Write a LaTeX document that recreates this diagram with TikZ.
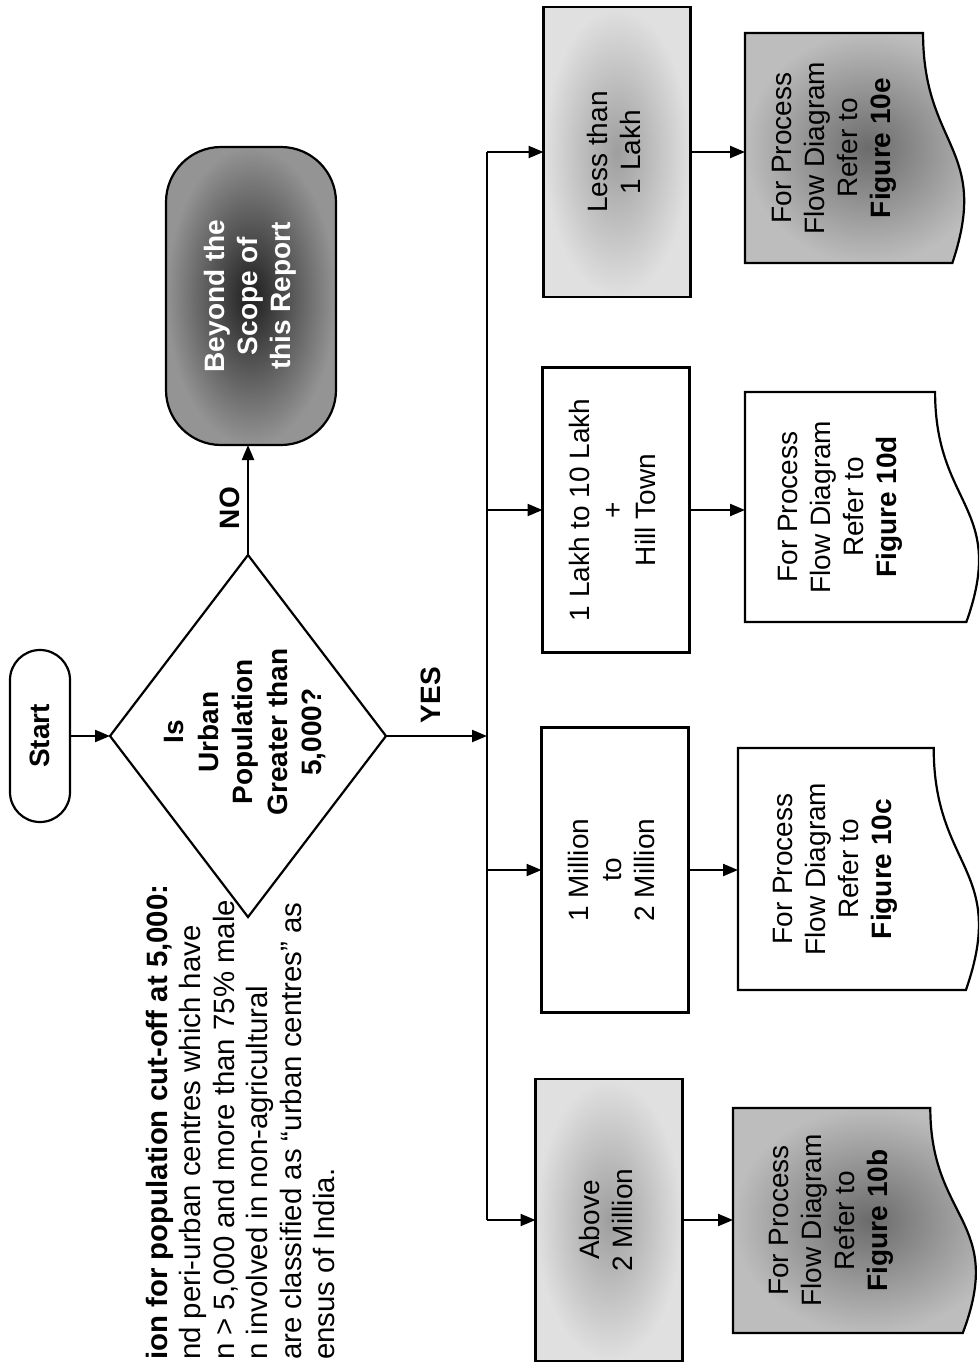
\documentclass[tikz,border=0pt]{standalone}
\usepackage{fontspec}
\setmainfont{Liberation Sans}
\usetikzlibrary{shapes.geometric,arrows.meta}
\newcommand{\myrot}[1]{\rotatebox{90}{\begin{tabular}{@{}c@{}}#1\end{tabular}}}
% #1 name, #2 left, #3 top, #4 width, #5 height, #6 path style, #7 text
\newcommand{\docnode}[7]{%
  \path[#6] (#2,#3) -- ({#2+0.802*#4},#3)
     .. controls ({#2+0.802*#4},{#3+0.5*#5}) and ({#2+1.1075*#4},{#3+0.5*#5}) ..
     ({#2+0.934*#4},{#3+#5}) -- (#2,{#3+#5}) -- cycle;
  \node[docbox, minimum width={0.802*#4}, minimum height=#5] (#1)
     at ({#2+0.401*#4},{#3+0.5*#5}) {\myrot{#7}};
}
\tikzset{
  base/.style={inner sep=0pt, outer sep=0pt, font=\fontsize{28}{33}\selectfont},
  procbox/.style={base, draw, rectangle, minimum width=147pt, minimum height=286pt},
  docbox/.style={base, rectangle, draw=none},
  lightshade/.style={inner color=black!38, outer color=black!12},
  darkdoc/.style={inner color=black!58, outer color=black!26},
  terminal/.style={base, draw, rectangle, rounded corners=30pt, font=\fontsize{28}{33}\selectfont\bfseries},
  decision/.style={draw, diamond, inner sep=0pt, outer sep=0pt, minimum width=276pt, minimum height=362pt},
  lbl/.style={inner sep=0pt, font=\fontsize{28}{33}\selectfont\bfseries},
  note/.style={anchor=base west, rotate=90, inner sep=0pt, font=\fontsize{29.4}{33}\selectfont},
  arr/.style={-{Triangle[length=15pt,width=12pt]}}
}
\begin{document}
\begin{tikzpicture}[x=1pt,y=-1pt,line width=2.2pt]
\useasboundingbox (0,0) rectangle (979,1364);
\fill[white] (0,0) rectangle (979,1364);
\clip (0,0) rectangle (979,1364);

% note text (runs to the page edge)
\node[note, font=\fontsize{29.4}{33}\selectfont\bfseries] (n1) at (167,1361) {ion for population cut-off at 5,000:};
\node[note] (n2) at (200,1361) {nd peri-urban centres which have};
\node[note] (n3) at (234,1361) {n > 5,000 and more than 75\% male};
\node[note] (n4) at (267,1361) {n involved in non-agricultural};
\node[note] (n5) at (301,1361) {are classified as “urban centres” as};
\node[note] (n6) at (334,1361) {ensus of India.};

% start, decision, terminal
\node[terminal, minimum width=60pt, minimum height=172pt] (start) at (40,736) {\rotatebox{90}{Start}};
\node[decision] (dia) at (248,736) {};
\node[base, font=\fontsize{28}{34.5}\selectfont\bfseries] (diatext) at (246,732)
  {\myrot{Is\\Urban\\Population\\Greater than\\5,000?}};
\node[base, draw, rounded corners=55pt, minimum width=170pt, minimum height=298pt,
      inner color=black!88, outer color=black!42, text=white,
      font=\fontsize{28}{33}\selectfont\bfseries] (beyond) at (251,296)
  {\myrot{Beyond the\\Scope of\\this Report}};

% process boxes
\node[procbox, lightshade, minimum height=290pt] (less) at (617,152) {\myrot{Less than\\1 Lakh}};
\node[procbox, fill=white, minimum height=285pt] (lakh) at (616,510) {\myrot{1 Lakh to 10 Lakh\\+\\Hill Town}};
\node[procbox, fill=white, minimum height=285pt] (mill) at (615,870) {\myrot{1 Million\\to\\2 Million}};
\node[procbox, lightshade, minimum height=282pt] (above) at (609,1220) {\myrot{Above\\2 Million}};

% documents
\docnode{d10e}{745}{33}{222}{230}{draw, darkdoc}{For Process\\Flow Diagram\\Refer to\\\textbf{Figure 10e}}
\docnode{d10d}{745}{392}{237}{230}{draw, fill=white}{For Process\\Flow Diagram\\Refer to\\\textbf{Figure 10d}}
\docnode{d10c}{738}{748}{244}{242}{draw, fill=white}{For Process\\Flow Diagram\\Refer to\\\textbf{Figure 10c}}
\docnode{d10b}{733}{1108}{246}{225}{draw, darkdoc}{For Process\\Flow Diagram\\Refer to\\\textbf{Figure 10b}}

% connectors
\draw[arr] (start.east) -- (dia.west);
\draw[arr] (dia.north) -- (dia.north |- beyond.south);
\node[lbl] (no) at (230,508) {\rotatebox{90}{NO}};
\coordinate (j) at (487,736);
\draw[arr] (dia.east) -- (j);
\node[lbl] (yes) at (431,695) {\rotatebox{90}{YES}};
\coordinate (t1) at (487,152);
\coordinate (t2) at (487,510);
\coordinate (t3) at (487,870);
\coordinate (t4) at (487,1220);
\draw (t1) -- (t4);
\draw[arr] (t1) -- (t1 -| less.west);
\draw[arr] (t2) -- (t2 -| lakh.west);
\draw[arr] (t3) -- (t3 -| mill.west);
\draw[arr] (t4) -- (t4 -| above.west);
\draw[arr] (less.east) -- (less.east -| d10e.west);
\draw[arr] (lakh.east) -- (lakh.east -| d10d.west);
\draw[arr] (mill.east) -- (mill.east -| d10c.west);
\draw[arr] (above.east) -- (above.east -| d10b.west);
\end{tikzpicture}
\end{document}
